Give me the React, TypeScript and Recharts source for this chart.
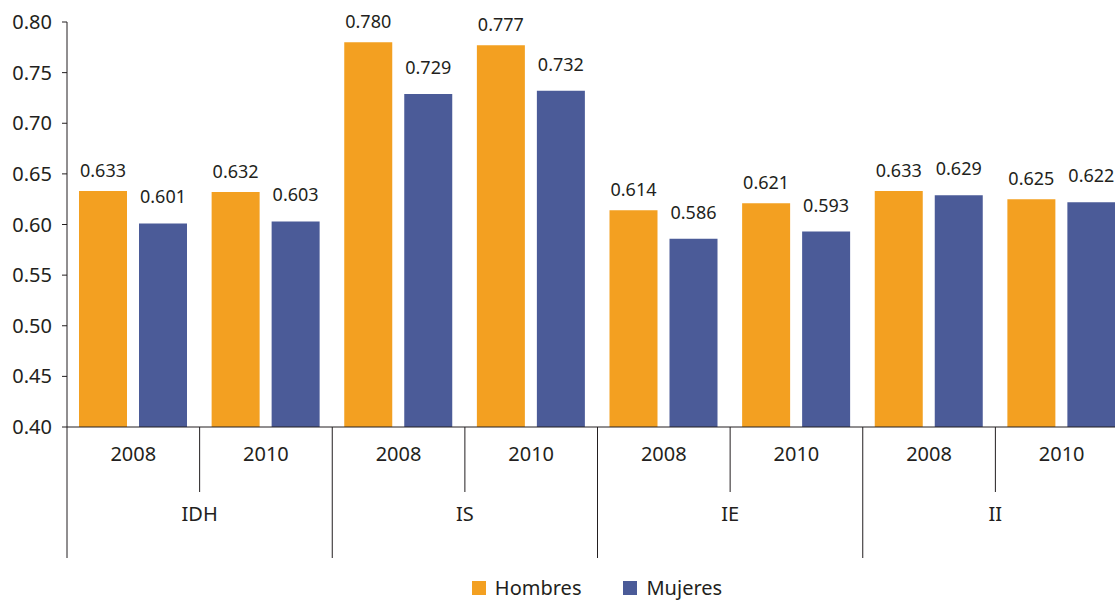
import React from 'react';
import { BarChart, Bar, XAxis, YAxis, Legend, LabelList } from 'recharts';

const years = ['2008', '2010', '2008', '2010', '2008', '2010', '2008', '2010'];
const groups = ['IDH', 'IDH', 'IS', 'IS', 'IE', 'IE', 'II', 'II'];
const hombres = [0.633, 0.632, 0.78, 0.777, 0.614, 0.621, 0.633, 0.625];
const mujeres = [0.601, 0.603, 0.729, 0.732, 0.586, 0.593, 0.629, 0.622];
const yTicks = [0.4, 0.45, 0.5, 0.55, 0.6, 0.65, 0.7, 0.75, 0.8];

const FONT = '"Noto Sans", sans-serif';
const TEXT = '#231f20';
const ORANGE = '#f3a021';
const BLUE = '#4b5b98';

const CHART_W = 1128;
const CHART_H = 601;
const Y_W = 67;
const CAT_W = (CHART_W - Y_W) / years.length;

const data = years.map((y, i) => ({
  key: `${groups[i]}-${y}`,
  year: y,
  group: groups[i],
  Hombres: hombres[i],
  Mujeres: mujeres[i],
}));

const XTick = (props: any) => {
  const { x, y, payload } = props;
  const i = payload.index;
  const d = data[i];
  const half = CAT_W / 2;
  const groupEnd = i % 2 === 1;
  return (
    <g>
      <text x={x} y={y + 34} textAnchor="middle" fontSize={20} fontFamily={FONT} fill={TEXT}>
        {d.year}
      </text>
      {i === 0 && <line x1={x - half} x2={x - half} y1={y} y2={y + 131} stroke={TEXT} strokeWidth={1} />}
      <line x1={x + half} x2={x + half} y1={y} y2={y + (groupEnd ? 131 : 65)} stroke={TEXT} strokeWidth={1} />
      {groupEnd && (
        <text x={x - half} y={y + 94} textAnchor="middle" fontSize={20} fontFamily={FONT} fill={TEXT}>
          {d.group}
        </text>
      )}
    </g>
  );
};

const renderLegend = (props: any) => {
  const { payload } = props;
  return (
    <div style={{ display: 'flex', justifyContent: 'center', gap: 42, fontFamily: FONT, fontSize: 20, color: TEXT, lineHeight: '26px' }}>
      {payload.map((entry: any) => (
        <span key={entry.value} style={{ display: 'flex', alignItems: 'center' }}>
          <span style={{ width: 14, height: 14, background: entry.color, marginRight: 9, display: 'inline-block' }} />
          {entry.value}
        </span>
      ))}
    </div>
  );
};

const fmt = (v: any) => Number(v).toFixed(3);

export default function App() {
  return (
    <div style={{ position: 'absolute', left: 0, top: 0, width: 1115, height: 601, overflow: 'hidden', background: '#fff' }}>
      <BarChart
        width={CHART_W}
        height={CHART_H}
        data={data}
        margin={{ top: 22, right: 0, left: 0, bottom: 0 }}
        barSize={48}
        barGap={12}
      >
        <YAxis
          width={Y_W}
          domain={[0.4, 0.8]}
          ticks={yTicks}
          allowDataOverflow
          tickFormatter={(v: number) => v.toFixed(2)}
          tick={{ fontSize: 20, fontFamily: FONT, fill: TEXT }}
          tickSize={5}
          tickMargin={10}
          axisLine={{ stroke: TEXT }}
          tickLine={{ stroke: TEXT }}
        />
        <XAxis
          dataKey="key"
          height={148}
          interval={0}
          tickLine={false}
          tickSize={0}
          tickMargin={0}
          axisLine={{ stroke: TEXT }}
          tick={<XTick />}
        />
        <Legend
          verticalAlign="bottom"
          content={renderLegend}
          wrapperStyle={{ left: Y_W, width: 1060, bottom: 0 }}
        />
        <Bar dataKey="Hombres" fill={ORANGE} isAnimationActive={false}>
          <LabelList dataKey="Hombres" position="top" offset={14} formatter={fmt} fontSize={18} fontFamily={FONT} fill={TEXT} />
        </Bar>
        <Bar dataKey="Mujeres" fill={BLUE} isAnimationActive={false}>
          <LabelList dataKey="Mujeres" position="top" offset={20} formatter={fmt} fontSize={18} fontFamily={FONT} fill={TEXT} />
        </Bar>
      </BarChart>
    </div>
  );
}
